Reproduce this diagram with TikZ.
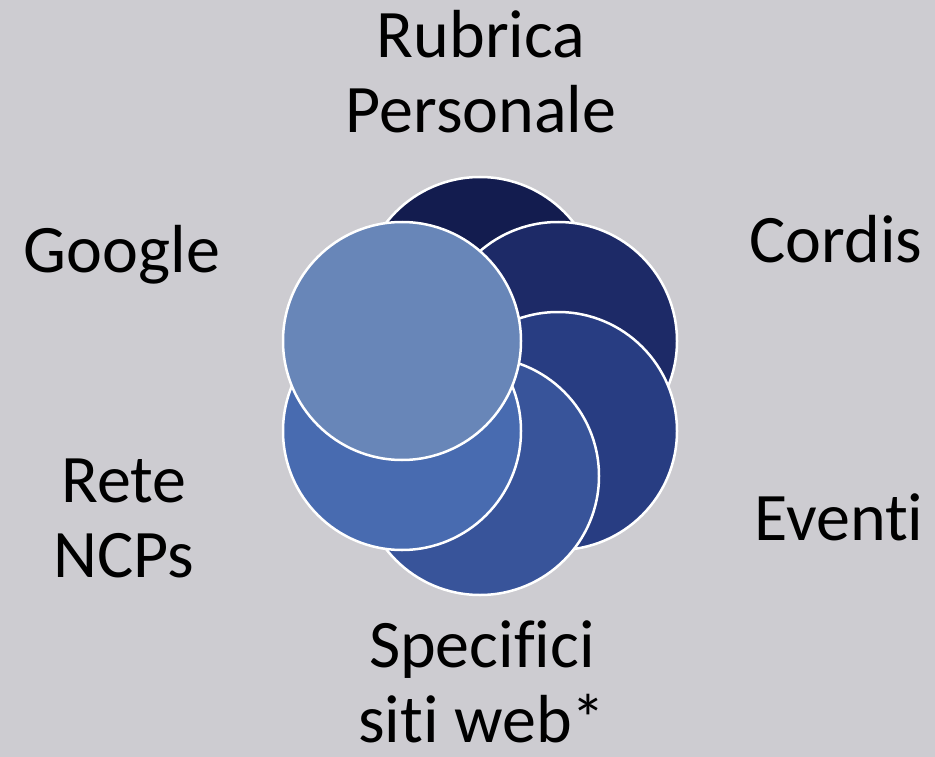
\documentclass[tikz,border=0pt]{standalone}
\usepackage{fontspec}
\setmainfont{Carlito}[Ligatures=NoCommon]
\usepackage{tikz}

\definecolor{bg}{HTML}{CDCCD1}
\definecolor{ringA}{HTML}{131C4F}
\definecolor{ringB}{HTML}{1D2A67}
\definecolor{ringC}{HTML}{283D82}
\definecolor{ringD}{HTML}{38549A}
\definecolor{ringE}{HTML}{486BB0}
\definecolor{ringF}{HTML}{6886B8}

\begin{document}
\begin{tikzpicture}[x=1pt,y=-1pt,
  ring node/.style={circle,draw=white,line width=2.5pt,
  minimum size=238pt,inner sep=0pt},
  label node/.style={align=center,anchor=base,
  font=\fontsize{68}{75}\selectfont}]

  \fill[bg] (0,0) rectangle (935,757);
  \useasboundingbox (0,0) rectangle (935,757);

  \node[ring node,fill=ringA] (rp) at (480,296) {};
  \node[ring node,fill=ringB] (co) at (558,341) {};
  \node[ring node,fill=ringC] (ev) at (558,431) {};
  \node[ring node,fill=ringD] (sw) at (480,476) {};
  \node[ring node,fill=ringE] (rn) at (402,431) {};
  \node[ring node,fill=ringF] (go) at (402,341) {};

  % two-line labels sit on the baseline of their last line
  \node[label node] (rpl) at (481,133) {Rubrica\\Personale};
  \node[label node] (col) at (836,262) {Cordis};
  \node[label node] (evl) at (839,540) {Eventi};
  \node[label node] (swl) at (482,742) {Specifici\\siti web*};
  \node[label node] (rnl) at (124,577) {Rete\\NCPs};
  \node[label node] (gol) at (122,272) {Google};
\end{tikzpicture}
\end{document}
